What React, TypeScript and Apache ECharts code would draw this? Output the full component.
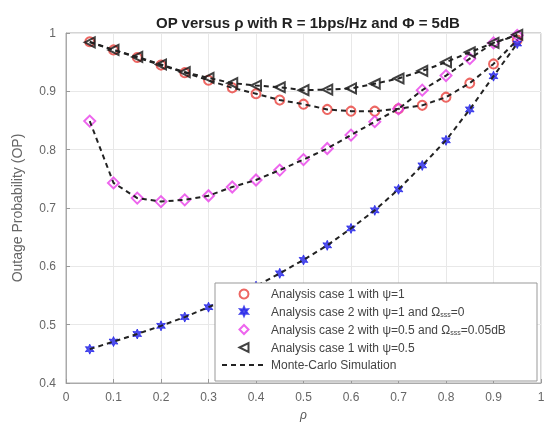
import React, { useEffect, useRef } from "react";
import * as echarts from "echarts";

const rho = [0.05, 0.1, 0.15, 0.2, 0.25, 0.3, 0.35, 0.4, 0.45, 0.5, 0.55, 0.6, 0.65, 0.7, 0.75, 0.8, 0.85, 0.9, 0.95];
const case1Psi1 = [0.985, 0.971, 0.958, 0.945, 0.932, 0.919, 0.906, 0.896, 0.885, 0.878, 0.869, 0.866, 0.866, 0.870, 0.876, 0.890, 0.914, 0.947, 0.988];
const case2Psi1 = [0.458, 0.471, 0.484, 0.498, 0.513, 0.530, 0.547, 0.566, 0.588, 0.611, 0.636, 0.665, 0.696, 0.732, 0.773, 0.816, 0.869, 0.926, 0.982];
const case2Psi05 = [0.849, 0.743, 0.717, 0.711, 0.714, 0.721, 0.736, 0.748, 0.765, 0.783, 0.802, 0.825, 0.848, 0.870, 0.902, 0.927, 0.956, 0.983, 0.996];
const case1Psi05 = [0.984, 0.971, 0.959, 0.946, 0.933, 0.923, 0.914, 0.910, 0.907, 0.902, 0.903, 0.905, 0.913, 0.922, 0.935, 0.950, 0.967, 0.983, 0.997];
const xTicks = ["0", "0.1", "0.2", "0.3", "0.4", "0.5", "0.6", "0.7", "0.8", "0.9", "1"];

const N1 = "Analysis case 1 with ψ=1";
const N2 = "Analysis case 2 with ψ=1 and Ωsss=0";
const N3 = "Analysis case 2 with ψ=0.5 and Ωsss=0.05dB";
const N4 = "Analysis case 1 with ψ=0.5";
const NMC = "Monte-Carlo Simulation";

const STAR = "path://M0,-10L2.5,-4.33L8.66,-5L5,0L8.66,5L2.5,4.33L0,10L-2.5,4.33L-8.66,5L-5,0L-8.66,-5L-2.5,-4.33Z";
const TRI_LEFT = "path://M0,5L10,0L10,10Z";
const DIAMOND = "path://M5,0L10,5L5,10L0,5Z";

const FONT = "'Liberation Sans', Arial, sans-serif";

function pairs(ys: number[]) {
  return rho.map((x, i) => [x, ys[i]]);
}

export default function App() {
  const ref = useRef<HTMLDivElement>(null);
  useEffect(() => {
    if (!ref.current) return;
    const chart = echarts.init(ref.current, null, { renderer: "svg" });
    const scatter = (name: string, ys: number[], symbol: string, size: number, color: string, filled: boolean) => ({
      name,
      type: "scatter",
      data: pairs(ys),
      symbol,
      symbolSize: size,
      symbolKeepAspect: true,
      z: 3,
      itemStyle: filled
        ? { color, borderColor: color, borderWidth: 1 }
        : { color: "rgba(255,255,255,0)", borderColor: color, borderWidth: 2 },
    });
    const mc = (ys: number[]) => ({
      name: NMC,
      type: "line",
      data: pairs(ys),
      showSymbol: false,
      symbol: "none",
      z: 4,
      lineStyle: { color: "#222", width: 2, type: [5, 4] },
      itemStyle: { color: "#222" },
    });
    const fmtLegend = (name: string) => {
      if (name === N2) return "Analysis case 2 with ψ=1 and Ω{sub|sss}=0";
      if (name === N3) return "Analysis case 2 with ψ=0.5 and Ω{sub|sss}=0.05dB";
      return name;
    };
    chart.setOption({
      animation: false,
      textStyle: { fontFamily: FONT },
      title: {
        text: "OP versus ρ with R = 1bps/Hz and Φ = 5dB",
        left: 303,
        textAlign: "center",
        top: 10,
        textStyle: { fontSize: 15, fontWeight: "bold", color: "#222", fontFamily: FONT },
      },
      grid: {
        left: 66,
        right: 9,
        top: 33,
        bottom: 45,
        show: true,
        borderColor: "#aaa",
        borderWidth: 1,
        backgroundColor: "#fff",
      },
      graphic: [
        {
          type: "rect",
          z: 50,
          shape: { x: 215, y: 283, width: 322, height: 98 },
          style: { fill: "#fff", stroke: "#999", lineWidth: 1 },
        },
      ],
      xAxis: {
        type: "value",
        min: 0,
        max: 1,
        interval: 0.1,
        name: "ρ",
        nameLocation: "middle",
        nameGap: 26,
        nameTextStyle: { fontStyle: "italic", fontSize: 12, color: "#555", fontFamily: FONT },
        axisLine: { show: true, lineStyle: { color: "#aaa" } },
        axisTick: { inside: true, length: 4, lineStyle: { color: "#999" } },
        axisLabel: {
          fontSize: 12,
          color: "#666",
          margin: 8,
          formatter: (v: number) => xTicks[Math.round(v * 10)] ?? "",
        },
        splitLine: { show: true, lineStyle: { color: "#e8e8e8" } },
      },
      yAxis: {
        type: "value",
        min: 0.4,
        max: 1,
        interval: 0.1,
        name: "Outage Probability (OP)",
        nameLocation: "middle",
        nameGap: 42,
        nameTextStyle: { fontSize: 14, color: "#666", fontFamily: FONT },
        axisLine: { show: true, lineStyle: { color: "#aaa" } },
        axisTick: { inside: true, length: 4, lineStyle: { color: "#999" } },
        axisLabel: {
          fontSize: 12,
          color: "#666",
          margin: 10,
          formatter: (v: number) => (Math.abs(v - 1) < 1e-9 ? "1" : v.toFixed(1)),
        },
        splitLine: { show: true, lineStyle: { color: "#e8e8e8" } },
      },
      legend: {
        orient: "vertical",
        left: 215,
        top: 286,
        z: 60,
        data: [N1, N2, N3, N4, { name: NMC, itemStyle: { color: "rgba(0,0,0,0)", borderWidth: 0, opacity: 0 } }],
        padding: [2, 8, 2, 6],
        itemGap: 5.5,
        itemWidth: 44,
        itemHeight: 9,
        symbolKeepAspect: true,
        formatter: fmtLegend,
        textStyle: {
          fontSize: 12,
          color: "#444",
          fontFamily: FONT,
          rich: {
            sub: { fontSize: 7, color: "#444", verticalAlign: "bottom", padding: [6, 0, 0, 0] },
          },
        },
      },
      series: [
        scatter(N1, case1Psi1, "circle", 9, "#e8413c", false),
        scatter(N2, case2Psi1, STAR, 10, "#2323e8", true),
        scatter(N3, case2Psi05, DIAMOND, 11, "#e83ee8", false),
        scatter(N4, case1Psi05, TRI_LEFT, 10, "#111", false),
        mc(case1Psi1),
        mc(case2Psi1),
        mc(case2Psi05),
        mc(case1Psi05),
      ],
    });
    return () => chart.dispose();
  }, []);
  return <div ref={ref} style={{ position: "fixed", left: 0, top: 0, width: 550, height: 428 }} />;
}
